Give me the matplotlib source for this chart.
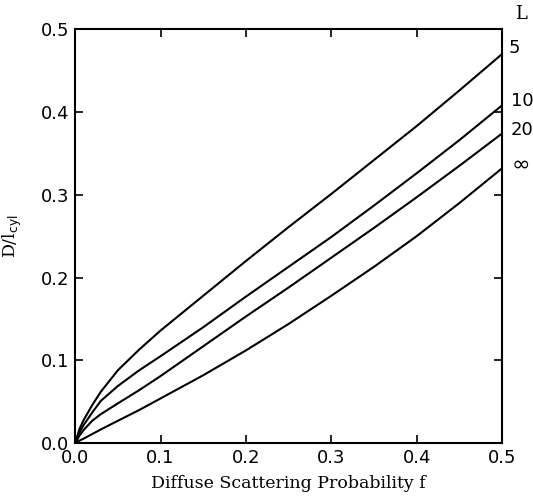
import numpy as np
import matplotlib
matplotlib.use('Agg')
import matplotlib.pyplot as plt

# Đọc số liệu từ hình
f = [0, 0.005, 0.01, 0.02, 0.03, 0.05, 0.075, 0.1, 0.15, 0.2, 0.25, 0.3, 0.35, 0.4, 0.45, 0.5]
d_L5 = [0, 0.017, 0.028, 0.046, 0.062, 0.088, 0.113, 0.136, 0.178, 0.220, 0.261, 0.301, 0.342, 0.383, 0.426, 0.470]
d_L10 = [0, 0.013, 0.022, 0.037, 0.051, 0.069, 0.088, 0.105, 0.140, 0.177, 0.213, 0.249, 0.287, 0.326, 0.366, 0.408]
d_L20 = [0, 0.009, 0.016, 0.027, 0.035, 0.048, 0.064, 0.081, 0.117, 0.153, 0.188, 0.224, 0.260, 0.297, 0.335, 0.374]
d_Linf = [0, 0.003, 0.0055, 0.011, 0.0165, 0.027, 0.040, 0.054, 0.082, 0.112, 0.144, 0.178, 0.213, 0.250, 0.290, 0.332]
curves = [d_L5, d_L10, d_L20, d_Linf]
labels = ['5', '10', '20', r'$\infty$']
label_y = [0.477, 0.413, 0.378, 0.338]

fig = plt.figure(figsize=(5.33, 5.03), dpi=100)
ax = fig.add_axes([0.141, 0.119, 0.801, 0.823])

for d in curves:
    ax.plot(f, d, color='black', lw=1.5)

ax.set_xlim(0, 0.5)
ax.set_ylim(0, 0.5)
ticks = [0.0, 0.1, 0.2, 0.3, 0.4, 0.5]
ax.set_xticks(ticks)
ax.set_yticks(ticks)
ax.set_xticklabels(['%.1f' % t for t in ticks])
ax.set_yticklabels(['%.1f' % t for t in ticks])
ax.tick_params(direction='in', length=6, width=1.2, top=True, right=True,
               labelsize=13, pad=4)
for s in ax.spines.values():
    s.set_linewidth(1.5)

ax.set_xlabel('Diffuse Scattering Probability f', family='DejaVu Serif',
              fontsize=12.5, labelpad=6)
ax.set_ylabel(r'D/l$_{\rm cyl}$', family='DejaVu Serif', fontsize=12.5, labelpad=12)

ax.text(0.515, 0.518, 'L', family='DejaVu Serif', fontsize=13,
        ha='left', va='center', clip_on=False)
for lab, y in zip(labels, label_y):
    size = 16 if lab.startswith('$') else 13
    ax.text(0.507 if lab == '5' else 0.51, y, lab, fontsize=size,
            ha='left', va='center', rotation=0, clip_on=False)

fig.savefig('out.png', dpi=100)
